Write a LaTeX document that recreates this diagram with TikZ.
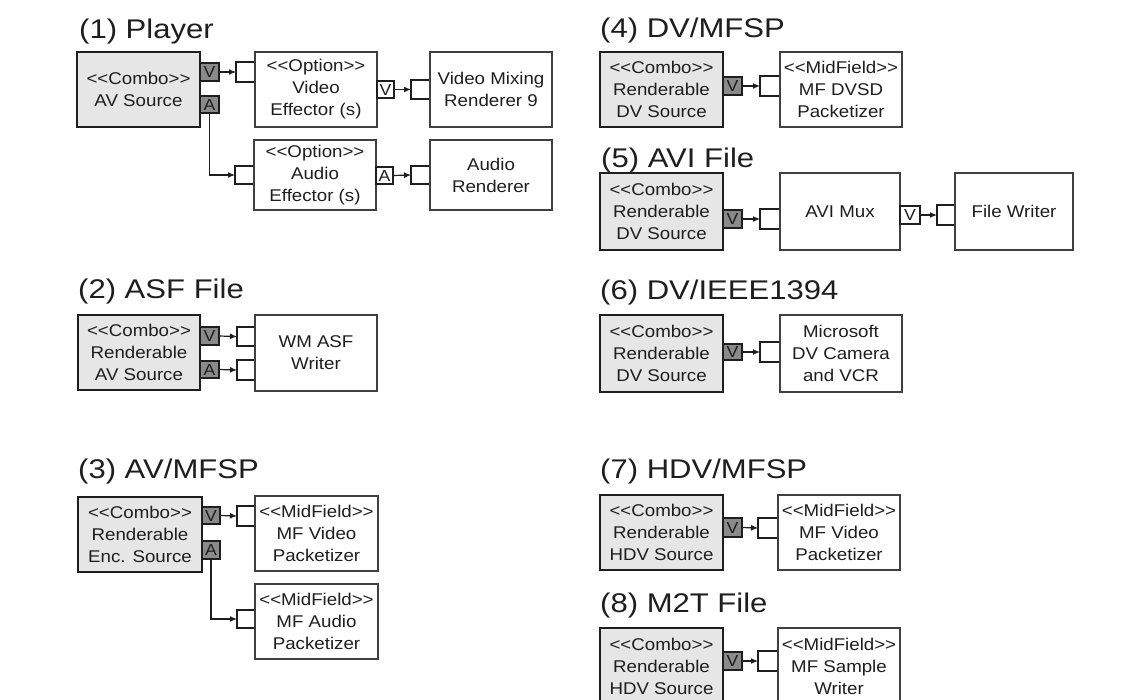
\documentclass[tikz,border=0pt]{standalone}
\usepackage{fontspec}
\setmainfont{Liberation Sans}
\newfontfamily\titlefont[FakeStretch=1.15]{Liberation Sans}
\newfontfamily\boxfont[FakeStretch=1.1]{Liberation Sans}
\usetikzlibrary{arrows.meta}
\definecolor{srcfill}{HTML}{E6E6E6}
\definecolor{pinfill}{HTML}{8A8A8A}
\definecolor{ink}{HTML}{1E1E1E}
\newcommand\mkbox[7]{\node[#6, minimum width={#4-#2}, minimum height={#5-#3}] (#1) at ({(#2+#4)/2},{(#3+#5)/2}) {#7};}
\newcommand\mkport[5]{\node[portn, minimum width={#4-#2}, minimum height={#5-#3}] (#1) at ({(#2+#4)/2},{(#3+#5)/2}) {};
  \draw[portline] (#1.north east) -- (#1.north west) -- (#1.south west) -- (#1.south east);}
\tikzset{
  ttl/.style={anchor=base west, inner sep=0pt, font=\titlefont\fontsize{27}{30}\selectfont, text=ink},
  src/.style={draw=ink, line width=2.4pt, fill=srcfill, inner sep=0pt, outer sep=0pt, align=center, text=ink, font=\boxfont\fontsize{17}{22}\selectfont},
  flt/.style={draw=ink!85, line width=1.4pt, fill=white, inner sep=0pt, outer sep=0pt, align=center, text=ink, font=\boxfont\fontsize{17}{22}\selectfont},
  pind/.style={draw=ink, line width=1.3pt, fill=pinfill, inner sep=0pt, outer sep=0pt, text=ink, font=\boxfont\fontsize{16}{16}\selectfont},
  pinw/.style={draw=ink, line width=1.1pt, fill=white, inner sep=0pt, outer sep=0pt, text=ink, font=\boxfont\fontsize{16}{16}\selectfont},
  portn/.style={inner sep=0pt, outer sep=0pt},
  portline/.style={draw=ink, line width=1.2pt},
  arr/.style={draw=ink, line width=1.2pt, -{Latex[length=7pt,width=6pt]}},
}
\begin{document}
\begin{tikzpicture}[x=1pt,y=-1pt]
\useasboundingbox (0,0) rectangle (1135,699);
\clip (0,0) rectangle (1135,699);
\fill[white] (0,0) rectangle (1135,699);

% ---------- (1) Player ----------
\node[ttl] (t1) at (79,38) {(1) Player};
\mkbox{s1}{77}{52}{200}{127}{src}{<{}<Combo>{}>\\AV Source}
\mkbox{p1v}{200}{63}{219}{81}{pind}{V}
\mkbox{p1a}{200}{96}{219}{113}{pind}{A}
\mkport{q1v}{236}{62}{255}{82}
\mkbox{ve}{255}{52}{377}{127}{flt}{<{}<Option>{}>\\Video\\Effector (s)}
\mkbox{p1vo}{377}{81}{394}{98}{pinw}{V}
\mkport{q1vo}{411}{80}{430}{99}
\mkbox{vmr}{430}{52}{552}{127}{flt}{Video Mixing\\Renderer 9}
\mkport{q1a}{235}{166}{254}{184}
\mkbox{ae}{254}{140}{376}{210}{flt}{<{}<Option>{}>\\Audio\\Effector (s)}
\mkbox{p1ao}{376}{167}{393}{184}{pinw}{A}
\mkport{q1ao}{411}{166}{430}{184}
\mkbox{ar}{430}{140}{552}{210}{flt}{Audio\\Renderer}
\draw[arr] (p1v.east) -- (q1v.west);
\draw[arr] (p1a.south) |- (q1a.west);
\draw[arr] (p1vo.east) -- (q1vo.west);
\draw[arr] (p1ao.east) -- (q1ao.west);

% ---------- (2) ASF File ----------
\node[ttl] (t2) at (78,298) {(2) ASF File};
\mkbox{s2}{78}{315}{200}{390}{src}{<{}<Combo>{}>\\Renderable\\AV Source}
\mkbox{p2v}{200}{327}{219}{345}{pind}{V}
\mkbox{p2a}{200}{361}{219}{378}{pind}{A}
\mkport{q2v}{237}{327}{255}{346}
\mkport{q2a}{237}{360}{255}{380}
\mkbox{wm}{255}{315}{377}{391}{flt}{WM ASF\\Writer}
\draw[arr] (p2v.east) -- (q2v.west);
\draw[arr] (p2a.east) -- (q2a.west);

% ---------- (3) AV/MFSP ----------
\node[ttl] (t3) at (78,478) {(3) AV/MFSP};
\mkbox{s3}{78}{497}{202}{572}{src}{<{}<Combo>{}>\\Renderable\\Enc. Source}
\mkbox{p3v}{202}{507}{220}{524}{pind}{V}
\mkbox{p3a}{202}{541}{220}{559}{pind}{A}
\mkport{q3v}{237}{506}{255}{526}
\mkbox{mfvp}{255}{496}{378}{571}{flt}{<{}<MidField>{}>\\MF Video\\Packetizer}
\mkport{q3a}{237}{610}{255}{628}
\mkbox{mfap}{255}{584}{378}{659}{flt}{<{}<MidField>{}>\\MF Audio\\Packetizer}
\draw[arr] (p3v.east) -- (q3v.west);
\draw[arr] (p3a.south) |- (q3a.west);

% ---------- (4) DV/MFSP ----------
\node[ttl] (t4) at (600,37) {(4) DV/MFSP};
\mkbox{s4}{600}{52}{723}{127}{src}{<{}<Combo>{}>\\Renderable\\DV Source}
\mkbox{p4v}{723}{77}{742}{95}{pind}{V}
\mkport{q4v}{760}{76}{780}{96}
\mkbox{dvsd}{780}{52}{902}{127}{flt}{<{}<MidField>{}>\\MF DVSD\\Packetizer}
\draw[arr] (p4v.east) -- (q4v.west);

% ---------- (5) AVI File ----------
\node[ttl] (t5) at (601,167) {(5) AVI File};
\mkbox{s5}{600}{173}{723}{250}{src}{<{}<Combo>{}>\\Renderable\\DV Source}
\mkbox{p5v}{723}{210}{742}{228}{pind}{V}
\mkport{q5v}{760}{209}{780}{229}
\mkbox{mux}{780}{173}{900}{250}{flt}{AVI Mux}
\mkbox{p5vo}{900}{206}{920}{224}{pinw}{V}
\mkport{q5vo}{937}{205}{955}{225}
\mkbox{fw}{955}{173}{1073}{250}{flt}{File Writer}
\draw[arr] (p5v.east) -- (q5v.west);
\draw[arr] (p5vo.east) -- (q5vo.west);

% ---------- (6) DV/IEEE1394 ----------
\node[ttl] (t6) at (600,299) {(6) DV/IEEE1394};
\mkbox{s6}{600}{315}{723}{392}{src}{<{}<Combo>{}>\\Renderable\\DV Source}
\mkbox{p6v}{723}{344}{742}{360}{pind}{V}
\mkport{q6v}{760}{342}{780}{362}
\mkbox{ms}{780}{315}{902}{392}{flt}{Microsoft\\DV Camera\\and VCR}
\draw[arr] (p6v.east) -- (q6v.west);

% ---------- (7) HDV/MFSP ----------
\node[ttl] (t7) at (600,478) {(7) HDV/MFSP};
\mkbox{s7}{600}{495}{723}{570}{src}{<{}<Combo>{}>\\Renderable\\HDV Source}
\mkbox{p7v}{723}{518}{742}{537}{pind}{V}
\mkport{q7v}{758}{518}{778}{538}
\mkbox{mfvp7}{778}{495}{900}{570}{flt}{<{}<MidField>{}>\\MF Video\\Packetizer}
\draw[arr] (p7v.east) -- (q7v.west);

% ---------- (8) M2T File ----------
\node[ttl] (t8) at (600,612) {(8) M2T File};
\mkbox{s8}{600}{628}{723}{704}{src}{<{}<Combo>{}>\\Renderable\\HDV Source}
\mkbox{p8v}{723}{652}{742}{670}{pind}{V}
\mkport{q8v}{758}{651}{778}{671}
\mkbox{mfsw}{778}{628}{900}{704}{flt}{<{}<MidField>{}>\\MF Sample\\Writer}
\draw[arr] (p8v.east) -- (q8v.west);
\end{tikzpicture}
\end{document}
